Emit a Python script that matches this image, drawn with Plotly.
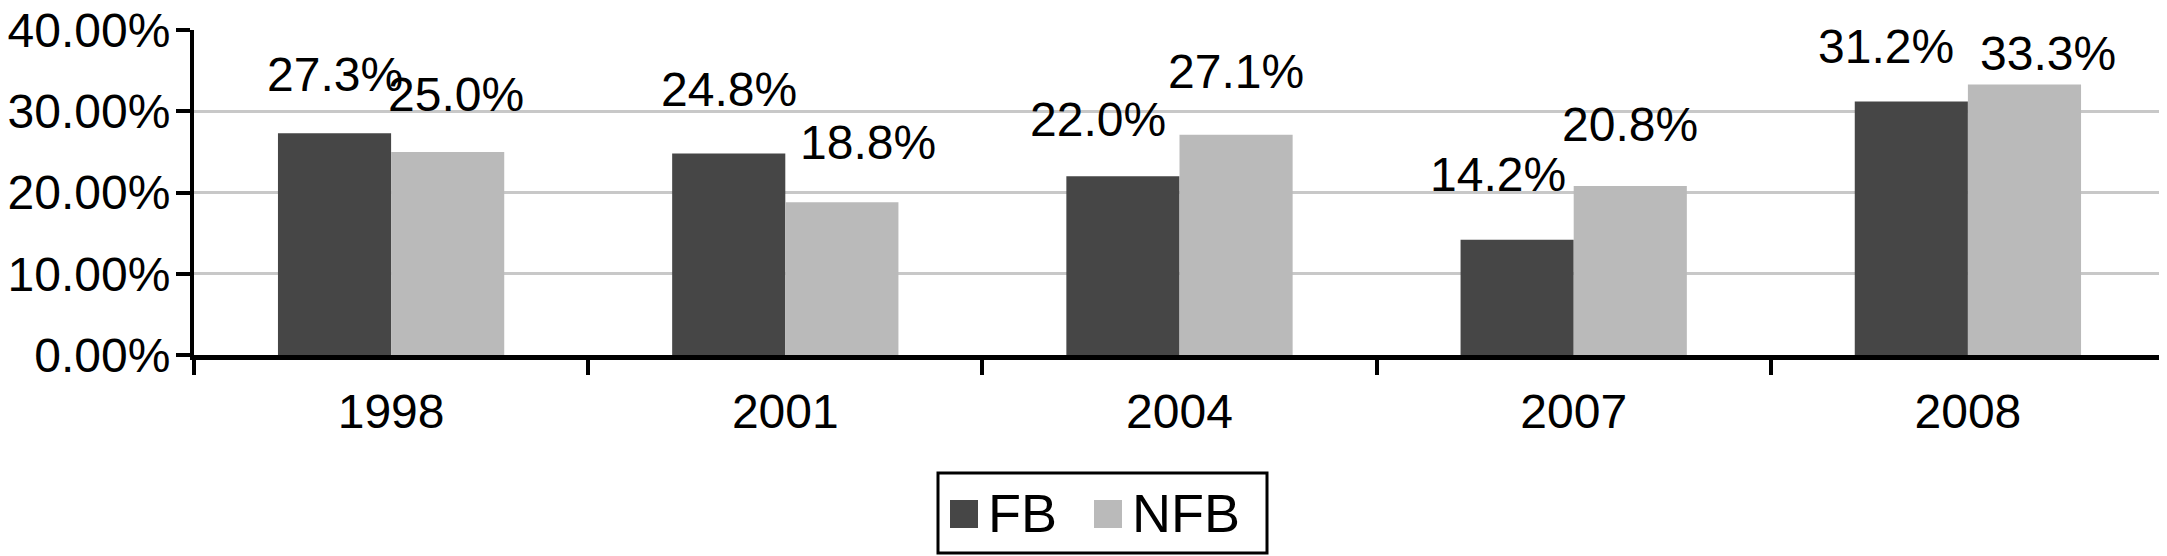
import plotly.graph_objects as go

# ---- data ----
years = ["1998", "2001", "2004", "2007", "2008"]
fb_values = [0.273, 0.248, 0.220, 0.142, 0.312]
nfb_values = [0.250, 0.188, 0.271, 0.208, 0.333]
series_names = ["FB", "NFB"]

# ---- style ----
PAGE_PAD = 8  # default body margin of the html page
W, H = 2167 - PAGE_PAD, 556 - PAGE_PAD
ML, MR, MT = 194 - PAGE_PAD, 2, 30 - PAGE_PAD
PH = 325
MB = H - MT - PH
FONT = "Liberation Sans, Arial, Helvetica, sans-serif"
FB_COLOR = "#464646"
NFB_COLOR = "#bababa"
BARGAP = 0.426
LABEL_SIZE = 48

# label nudges (pixels): horizontal shift and gap above bar top
fb_dx = [0, 0, -25, -19, -25]
fb_gap = [40, 46, 38, 47, 37]
nfb_dx = [8, 26, 0, 0, 24]
nfb_gap = [39, 41, 45, 43, 13]
DESCENT = 10

pw = W - ML - MR
ph = PH
cat_w = pw / len(years)
bar_w = cat_w * (1 - BARGAP) / 2
half = bar_w / 2


def px_x(p):
    # page pixel -> paper coordinate
    return (p - PAGE_PAD - ML) / pw


def px_y(p):
    return (MT + ph - (p - PAGE_PAD)) / ph


fig = go.Figure()
fig.add_trace(go.Bar(x=years, y=fb_values, name=series_names[0],
                     marker=dict(color=FB_COLOR, line=dict(width=0)),
                     showlegend=False, cliponaxis=False))
fig.add_trace(go.Bar(x=years, y=nfb_values, name=series_names[1],
                     marker=dict(color=NFB_COLOR, line=dict(width=0)),
                     showlegend=False, cliponaxis=False))

annotations = []
for i, yr in enumerate(years):
    annotations.append(dict(
        x=i, y=fb_values[i], xref="x", yref="y",
        text=f"{fb_values[i]*100:.1f}%", showarrow=False,
        xanchor="center", yanchor="bottom",
        xshift=-half + fb_dx[i], yshift=fb_gap[i] - DESCENT,
        font=dict(size=LABEL_SIZE, color="black", family=FONT)))
    annotations.append(dict(
        x=i, y=nfb_values[i], xref="x", yref="y",
        text=f"{nfb_values[i]*100:.1f}%", showarrow=False,
        xanchor="center", yanchor="bottom",
        xshift=half + nfb_dx[i], yshift=nfb_gap[i] - DESCENT,
        font=dict(size=LABEL_SIZE, color="black", family=FONT)))

# manual legend (box, swatches, labels)
shapes = [
    dict(type="rect", xref="paper", yref="paper",
         x0=px_x(938), x1=px_x(1267), y0=px_y(553), y1=px_y(473),
         line=dict(color="black", width=3), fillcolor="white", layer="above"),
    dict(type="rect", xref="paper", yref="paper",
         x0=px_x(950), x1=px_x(978), y0=px_y(528), y1=px_y(500),
         line=dict(width=0), fillcolor=FB_COLOR, layer="above"),
    dict(type="rect", xref="paper", yref="paper",
         x0=px_x(1094), x1=px_x(1122), y0=px_y(528), y1=px_y(500),
         line=dict(width=0), fillcolor=NFB_COLOR, layer="above"),
]
annotations.append(dict(x=px_x(986), y=px_y(513), xref="paper", yref="paper",
                        text=series_names[0], showarrow=False,
                        xanchor="left", yanchor="middle",
                        font=dict(size=54, color="black", family=FONT)))
annotations.append(dict(x=px_x(1130), y=px_y(513), xref="paper", yref="paper",
                        text=series_names[1], showarrow=False,
                        xanchor="left", yanchor="middle",
                        font=dict(size=54, color="black", family=FONT)))

fig.update_layout(
    width=W, height=H,
    margin=dict(l=ML, r=MR, t=MT, b=MB, pad=0, autoexpand=False),
    paper_bgcolor="white", plot_bgcolor="white",
    barmode="group", bargap=BARGAP, bargroupgap=0,
    showlegend=False,
    font=dict(family=FONT, color="black"),
    annotations=annotations,
    shapes=shapes,
)
fig.update_xaxes(
    type="category", range=[-0.5, len(years) - 0.5], automargin=False,
    showline=True, linecolor="black", linewidth=5,
    ticks="outside", tickson="boundaries", ticklen=15, tickwidth=4,
    tickcolor="black", tickangle=0,
    tickfont=dict(size=48, family=FONT, color="black"),
    ticklabelstandoff=10,
    showgrid=False, zeroline=False,
)
fig.update_yaxes(
    range=[0, 0.4001], tickvals=[0, 0.1, 0.2, 0.3, 0.4], tickformat=".2%",
    automargin=False, ticklabeloverflow="allow",
    showline=True, linecolor="black", linewidth=4,
    ticks="outside", ticklen=14, tickwidth=4, tickcolor="black",
    tickfont=dict(size=48, family=FONT, color="black"),
    ticklabelstandoff=-4,
    showgrid=True, gridcolor="#c8c8c8", gridwidth=3,
    zeroline=False,
)

fig.write_html("out.html")
